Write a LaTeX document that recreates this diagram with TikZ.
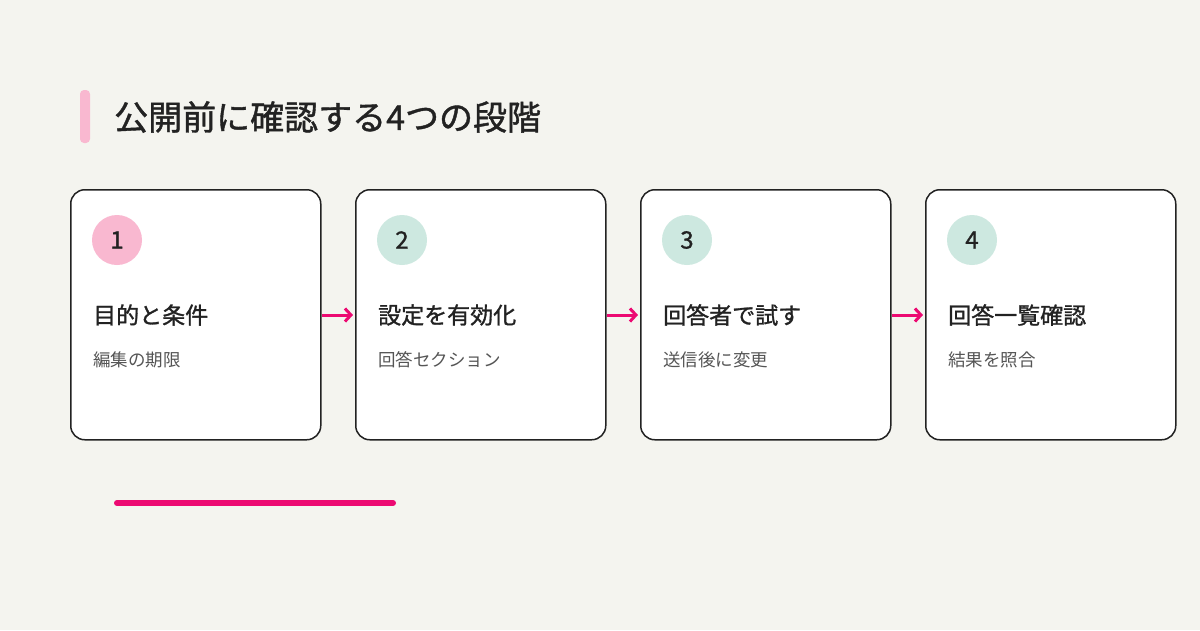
\documentclass[tikz,border=0pt]{standalone}
\usepackage{fontspec}
\usetikzlibrary{arrows.meta}
\setmainfont{Noto Sans CJK JP}
\newfontfamily\medfont[FakeBold=1.2]{Noto Sans CJK JP}
\definecolor{bg}{HTML}{F4F4EF}
\definecolor{mag}{HTML}{EC0A72}
\definecolor{pinkc}{HTML}{F9B8D0}
\definecolor{tealc}{HTML}{CDE8E0}
\definecolor{txt}{HTML}{222222}
\definecolor{sub}{HTML}{555555}
\begin{document}
\begin{tikzpicture}[x=1pt,y=-1pt,
  card/.style={draw=txt,line width=1.5pt,fill=white,rounded corners=14pt,minimum width=250pt,minimum height=250pt,anchor=north west},
  num/.style={circle,minimum size=50pt,inner sep=0pt,font=\medfont\fontsize{24}{24}\selectfont,text=txt},
  head/.style={anchor=west,font=\medfont\fontsize{23}{23}\selectfont,text=txt,inner sep=0pt},
  subt/.style={anchor=west,font=\fontsize{17.5}{17.5}\selectfont,text=sub,inner sep=0pt},
  arr/.style={draw=mag,line width=3pt,-{Straight Barb[length=6pt,width=13pt]}}]
\fill[bg] (0,0) rectangle (1200,630);
\useasboundingbox (0,0) rectangle (1200,630);
\fill[pinkc,rounded corners=4pt] (80,90) rectangle (90,143);
\node[anchor=west,inner sep=0pt,font=\medfont\fontsize{34}{34}\selectfont,text=txt] (title) at (114,117) {公開前に確認する4つの段階};
\foreach \i/\x/\c/\h/\s in {1/70/pinkc/目的と条件/編集の期限, 2/355/tealc/設定を有効化/回答セクション, 3/640/tealc/回答者で試す/送信後に変更, 4/925/tealc/回答一覧確認/結果を照合}{
  \node[card] (c\i) at (\x,189) {};
  \node[num,fill=\c] (n\i) at (\x+47,240) {\i};
  \node[head] (h\i) at (\x+23,315) {\h};
  \node[subt] (s\i) at (\x+23,360) {\s};
}
\coordinate (a1) at (322,315); \coordinate (b1) at (353,315);
\coordinate (a2) at (607,315); \coordinate (b2) at (638,315);
\coordinate (a3) at (892,315); \coordinate (b3) at (923,315);
\draw[arr] (a1) -- (b1);
\draw[arr] (a2) -- (b2);
\draw[arr] (a3) -- (b3);
\coordinate (l1) at (117,503); \coordinate (l2) at (393,503);
\draw[mag,line width=6pt,line cap=round] (l1) -- (l2);
\end{tikzpicture}
\end{document}
